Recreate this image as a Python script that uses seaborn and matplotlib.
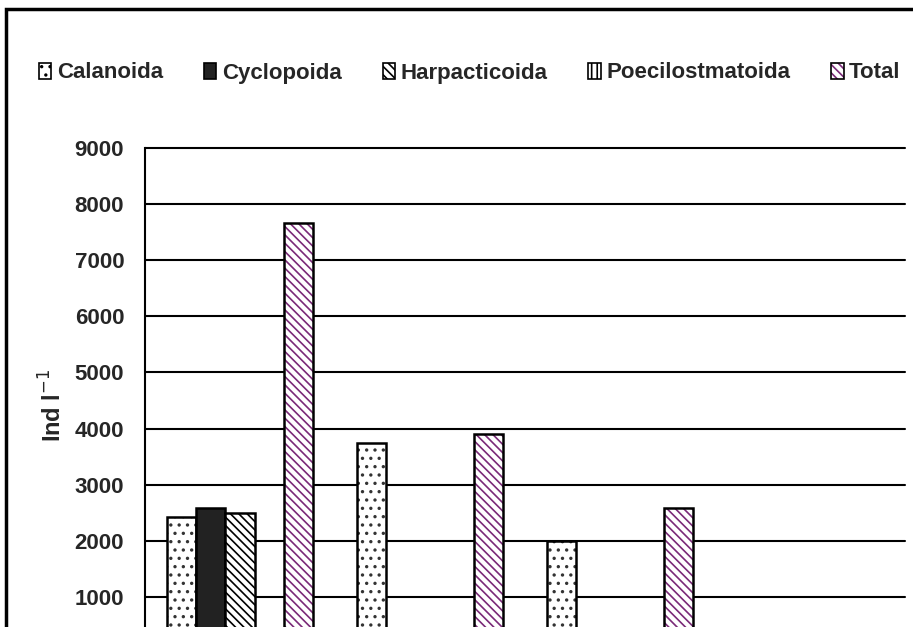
import matplotlib
matplotlib.use("Agg")
import matplotlib.pyplot as plt
from matplotlib.patches import Patch, Rectangle
from matplotlib.colors import to_rgba
import seaborn as sns
import pandas as pd

# Copepod abundance per station (individuals per litre)
stations = ["Station 1", "Station 2", "Station 3", "Station 4"]
groups = ["Calanoida", "Cyclopoida", "Harpacticoida", "Poecilostmatoida", "Total"]
calanoida = [2430, 3750, 2000, 0]
cyclopoida = [2590, 100, 350, 0]
harpacticoida = [2500, 40, 180, 0]
poecilostmatoida = [140, 20, 60, 0]
total = [7660, 3910, 2590, 0]
y_ticks = [1000, 2000, 3000, 4000, 5000, 6000, 7000, 8000, 9000]

series = [calanoida, cyclopoida, harpacticoida, poecilostmatoida, total]
df = pd.DataFrame(
    [(s, g, v) for g, vals in zip(groups, series) for s, v in zip(stations, vals)],
    columns=["station", "group", "value"],
)

# fill / hatch / hatch colour per copepod order
styles = {
    "Calanoida": dict(face="white", hatch="..", hcol="#333333"),
    "Cyclopoida": dict(face="#222222", hatch=None, hcol="black"),
    "Harpacticoida": dict(face="white", hatch="\\\\\\\\", hcol="black"),
    "Poecilostmatoida": dict(face="white", hatch="|||", hcol="black"),
    "Total": dict(face="white", hatch="\\\\\\\\", hcol="#7a2a78"),
}


def set_hatch_colour(patch, colour):
    if hasattr(patch, "set_hatchcolor"):
        patch.set_hatchcolor(colour)
    else:
        patch._hatch_color = to_rgba(colour)


sns.set_style("white")
plt.rcParams["font.family"] = ["Liberation Sans", "DejaVu Sans"]
plt.rcParams["hatch.linewidth"] = 1.2

fig = plt.figure(figsize=(9.13, 6.27), dpi=100)
# plot area runs below the lower edge of the figure
ax = fig.add_axes([145 / 913, -0.0415, 760 / 913, 0.8055])

sns.barplot(
    data=df, x="station", y="value", hue="group", hue_order=groups,
    order=stations, width=0.765, saturation=1, legend=False, ax=ax,
    palette=["white"] * len(groups), errorbar=None,
)

for g, cont in zip(groups, ax.containers):
    st = styles[g]
    for bar in cont.patches:
        bar.set_facecolor(st["face"])
        bar.set_edgecolor("black")
        bar.set_linewidth(1.8)
        if st["hatch"]:
            bar.set_hatch(st["hatch"])
            set_hatch_colour(bar, st["hcol"])

ax.set_ylim(0, 9000)
ax.set_yticks(y_ticks)
ax.set_yticklabels([str(t) for t in y_ticks], fontsize=16, fontweight="bold")
ax.tick_params(axis="y", direction="out", length=7, width=1.5, color="black", pad=8)
ax.tick_params(axis="x", length=0, labelbottom=False)
ax.yaxis.grid(True, color="black", linewidth=1.5)
ax.set_axisbelow(True)
for gl in ax.get_ygridlines():
    gl.set_clip_on(False)
for side in ["top", "right", "bottom"]:
    ax.spines[side].set_visible(False)
ax.spines["left"].set_color("black")
ax.spines["left"].set_linewidth(1.5)
ax.set_xlabel("")
ax.set_ylabel("Ind l$^{-1}$", fontsize=17, fontweight="bold", labelpad=6)
ax.yaxis.label.set_position((0, 248 / 505))

handles = [
    Patch(facecolor=styles[g]["face"], edgecolor="black", linewidth=1.2,
          hatch=styles[g]["hatch"], label=g)
    for g in groups
]
leg = fig.legend(
    handles=handles, loc="center left", bbox_to_anchor=(30 / 913, 1 - 73 / 627),
    ncol=5, frameon=False, handlelength=0.55, handleheight=0.7,
    handletextpad=0.25, columnspacing=1.85, borderaxespad=0,
    prop=dict(size=16, weight="bold"),
)
set_hatch_colour(leg.legend_handles[4], styles["Total"]["hcol"])

# outer frame around the figure
fig.add_artist(Rectangle((6 / 913, -0.2), 2.0, 1.2 - 9 / 627,
                         transform=fig.transFigure, fill=False,
                         edgecolor="black", linewidth=2.5))

fig.savefig("out.png", dpi=100)
